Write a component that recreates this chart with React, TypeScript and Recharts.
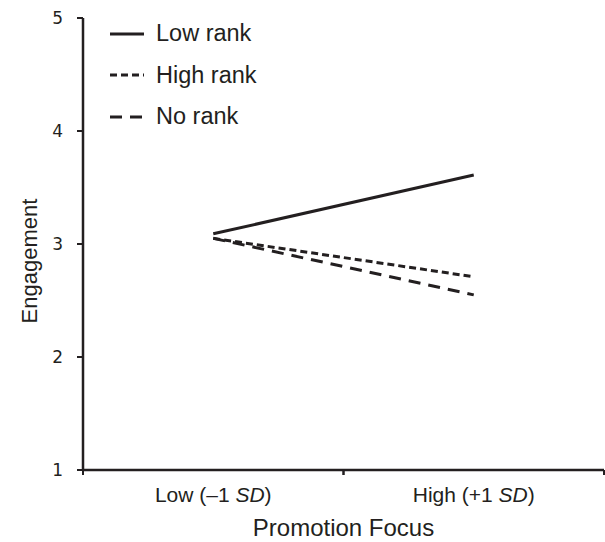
import { Legend, Line, LineChart, XAxis, YAxis } from "recharts";

const FOCUS_LEVELS = ["Low (–1 SD)", "High (+1 SD)"];
const LOW_RANK = [3.09, 3.61];
const HIGH_RANK = [3.05, 2.71];
const NO_RANK = [3.05, 2.55];
const Y_TICKS = [1, 2, 3, 4, 5];

const INK = "#231f20";
const FONT = '"Liberation Sans", Arial, sans-serif';

const CHART_W = 605;
const CHART_H = 542;
const MARGIN = { top: 18, right: 1, bottom: 0, left: 0 };
const Y_AXIS_W = 83;
const HALF_BAND = (CHART_W - Y_AXIS_W - MARGIN.right) / FOCUS_LEVELS.length / 2;

const SERIES = [
  { key: "low", name: "Low rank", dash: undefined },
  { key: "high", name: "High rank", dash: "7 4" },
  { key: "none", name: "No rank", dash: "12 8" },
];

const data = FOCUS_LEVELS.map((focus, i) => ({
  focus,
  low: LOW_RANK[i],
  high: HIGH_RANK[i],
  none: NO_RANK[i],
}));

// category label with the "SD" part set in italics, plus band-edge tick marks
function FocusTick({ x, y, payload }: any) {
  const [before, after] = String(payload.value).split("SD");
  return (
    <g>
      <line x1={x - HALF_BAND} x2={x - HALF_BAND} y1={y} y2={y + 5} stroke={INK} strokeWidth={2} />
      <line x1={x + HALF_BAND} x2={x + HALF_BAND} y1={y} y2={y + 5} stroke={INK} strokeWidth={2} />
      <text x={x} y={y + 32} textAnchor="middle" fontSize={21} fontFamily={FONT} fill={INK}>
        {before}
        <tspan fontStyle="italic">SD</tspan>
        {after}
      </text>
    </g>
  );
}

function EngagementLabel({ viewBox }: any) {
  const cx = viewBox.x + 29;
  const cy = viewBox.y + viewBox.height / 2 + 17;
  return (
    <text
      x={cx}
      y={cy}
      transform={`rotate(-90 ${cx} ${cy})`}
      textAnchor="middle"
      dominantBaseline="central"
      fontSize={22}
      fontFamily={FONT}
      fill={INK}
    >
      Engagement
    </text>
  );
}

function RankLegend() {
  return (
    <div style={{ fontFamily: FONT, fontSize: 23.5, color: INK }}>
      {SERIES.map((s) => (
        <div key={s.key} style={{ display: "flex", alignItems: "center", height: 41.5 }}>
          <svg width={34} height={6} style={{ marginRight: 12 }}>
            <line x1={0} x2={34} y1={3} y2={3} stroke={INK} strokeWidth={3} strokeDasharray={s.dash} />
          </svg>
          <span>{s.name}</span>
        </div>
      ))}
    </div>
  );
}

export default function App() {
  return (
    <div style={{ position: "absolute", left: 0, top: 0, background: "#fff" }}>
      <LineChart width={CHART_W} height={CHART_H} data={data} margin={MARGIN}>
        <XAxis
          dataKey="focus"
          scale="band"
          tick={<FocusTick />}
          tickLine={false}
          tickSize={0}
          tickMargin={0}
          height={CHART_H - 470}
          axisLine={{ stroke: INK, strokeWidth: 2.5 }}
          label={{
            value: "Promotion Focus",
            position: "insideBottom",
            offset: 6,
            fontSize: 24,
            fontFamily: FONT,
            fill: INK,
          }}
        />
        <YAxis
          type="number"
          domain={[1, 5]}
          ticks={Y_TICKS}
          width={Y_AXIS_W}
          tickSize={6}
          tickMargin={14}
          tick={{ fontSize: 17, fontFamily: '"DejaVu Sans", sans-serif', fill: INK }}
          tickLine={{ stroke: INK, strokeWidth: 2 }}
          axisLine={{ stroke: INK, strokeWidth: 2.5 }}
          label={<EngagementLabel />}
        />
        <Legend
          layout="vertical"
          align="center"
          verticalAlign="middle"
          content={<RankLegend />}
          wrapperStyle={{ left: 110, top: 13, width: 200 }}
        />
        {SERIES.map((s) => (
          <Line
            key={s.key}
            dataKey={s.key}
            name={s.name}
            type="linear"
            stroke={INK}
            strokeWidth={3}
            strokeDasharray={s.dash}
            dot={false}
            activeDot={false}
            isAnimationActive={false}
          />
        ))}
      </LineChart>
    </div>
  );
}
